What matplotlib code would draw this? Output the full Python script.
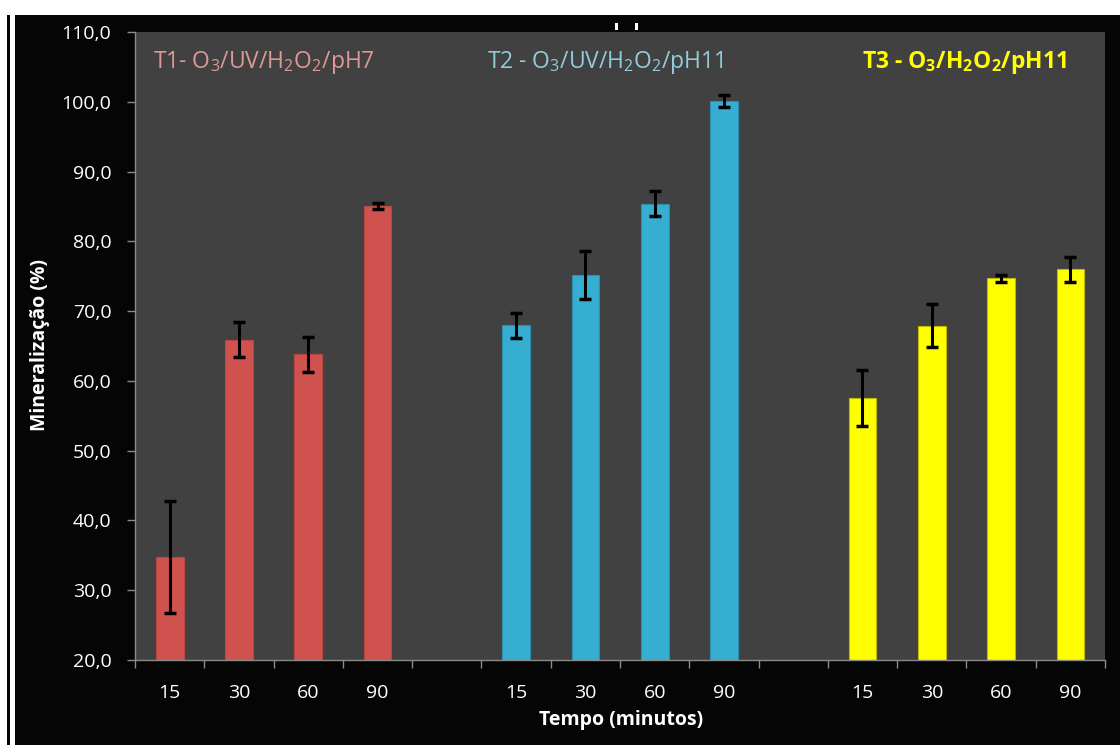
import matplotlib
matplotlib.use("Agg")
import matplotlib.pyplot as plt
from matplotlib.patches import Rectangle
import numpy as np

# ---- data ----
times = ["15", "30", "60", "90"]
groups = ["T1", "T2", "T3"]
t1_mean = [34.8, 65.9, 63.8, 85.1]
t1_err = [8.0, 2.5, 2.5, 0.4]
t2_mean = [68.0, 75.2, 85.4, 100.1]
t2_err = [1.8, 3.4, 1.8, 0.9]
t3_mean = [57.5, 67.9, 74.7, 76.0]
t3_err = [4.0, 3.1, 0.5, 1.8]
titles = [r"T1- O$_\mathrm{3}$/UV/H$_\mathrm{2}$O$_\mathrm{2}$/pH7",
          r"T2 - O$_\mathrm{3}$/UV/H$_\mathrm{2}$O$_\mathrm{2}$/pH11",
          r"T3 - O$_\mathbf{3}$/H$_\mathbf{2}$O$_\mathbf{2}$/pH11"]
yticks = [20, 30, 40, 50, 60, 70, 80, 90, 100, 110]
ylabel = "Mineralização (%)"
xlabel = "Tempo (minutos)"

# ---- style ----
bar_colors = ["#D0524E", "#35AED2", "#FFFF00"]
edge_colors = ["#B84642", "#2A8FB0", "#BDB800"]
title_colors = ["#DE9896", "#92CCDC", "#FFFF00"]
title_x = [0.26, 5.08, 10.49]   # left edge of each group title (x data units)

plt.rcParams["font.family"] = ["Open Sans", "DejaVu Sans"]
plt.rcParams["mathtext.fontset"] = "custom"
plt.rcParams["mathtext.rm"] = "Open Sans"
plt.rcParams["mathtext.bf"] = "Open Sans:bold"

W, H = 1120, 745
fig = plt.figure(figsize=(W / 100, H / 100), dpi=100, facecolor="white")

# black chart background with white margins
fig.patches.append(Rectangle((15 / W, 0), 1 - 15 / W, 1 - 15 / H, transform=fig.transFigure,
                             facecolor="#050505", edgecolor="none", zorder=-10))
fig.patches.append(Rectangle((7 / W, 0), 3 / W, 1 - 15 / H, transform=fig.transFigure,
                             facecolor="#050505", edgecolor="none", zorder=-10))
for mx in (615, 635):
    fig.patches.append(Rectangle((mx / W, 1 - 30 / H), 3 / W, 7 / H, transform=fig.transFigure,
                                 facecolor="white", edgecolor="none", zorder=-5))

left, right, top, bottom = 135, 1105, 32, 660
ax = fig.add_axes([left / W, 1 - bottom / H, (right - left) / W, (bottom - top) / H])
ax.set_facecolor("#414141")

means = [t1_mean, t2_mean, t3_mean]
errs = [t1_err, t2_err, t3_err]
n = len(times)
slots = n * len(groups) + (len(groups) - 1)
for g in range(len(groups)):
    pos = np.arange(n) + g * (n + 1) + 0.5
    ax.bar(pos, means[g], width=0.4, bottom=0, color=bar_colors[g],
           edgecolor=edge_colors[g], linewidth=0.8, zorder=2)
    ax.errorbar(pos, means[g], yerr=errs[g], fmt="none", ecolor="black",
                elinewidth=2.2, capsize=4, capthick=2.5, zorder=3)
    ax.text(title_x[g], 105.6, titles[g], color=title_colors[g],
            fontsize=16.5, fontweight="bold" if g == 2 else "normal",
            ha="left", va="center", zorder=4)

centers = [g * (n + 1) + i + 0.5 for g in range(len(groups)) for i in range(n)]
ax.set_xticks(np.arange(slots + 1))
ax.set_xticklabels([])
ax.set_xticks(centers, minor=True)
ax.set_xticklabels(times * len(groups), minor=True)
ax.tick_params(axis="x", which="minor", length=0, pad=17, labelsize=14, labelcolor="white")
ax.tick_params(axis="x", which="major", length=6, color="#8A8A8A", width=1)
ax.set_xlim(0, slots)

ax.set_ylim(20, 110)
ax.set_yticks(yticks)
ax.set_yticklabels([f"{v:.1f}".replace(".", ",") for v in yticks])
ax.tick_params(axis="y", length=6, color="#8A8A8A", width=1, labelsize=14,
               labelcolor="white", pad=11)

for s in ["top", "right"]:
    ax.spines[s].set_visible(False)
for s in ["left", "bottom"]:
    ax.spines[s].set_color("#8A8A8A")
    ax.spines[s].set_linewidth(1)

fig.text(40 / W, 1 - 345 / H, ylabel, rotation=90, color="white", fontsize=14,
         fontweight="bold", ha="center", va="center")
fig.text(621 / W, 1 - 720 / H, xlabel, color="white", fontsize=14,
         fontweight="bold", ha="center", va="center")

fig.savefig("out.png", dpi=100, facecolor=fig.get_facecolor())
